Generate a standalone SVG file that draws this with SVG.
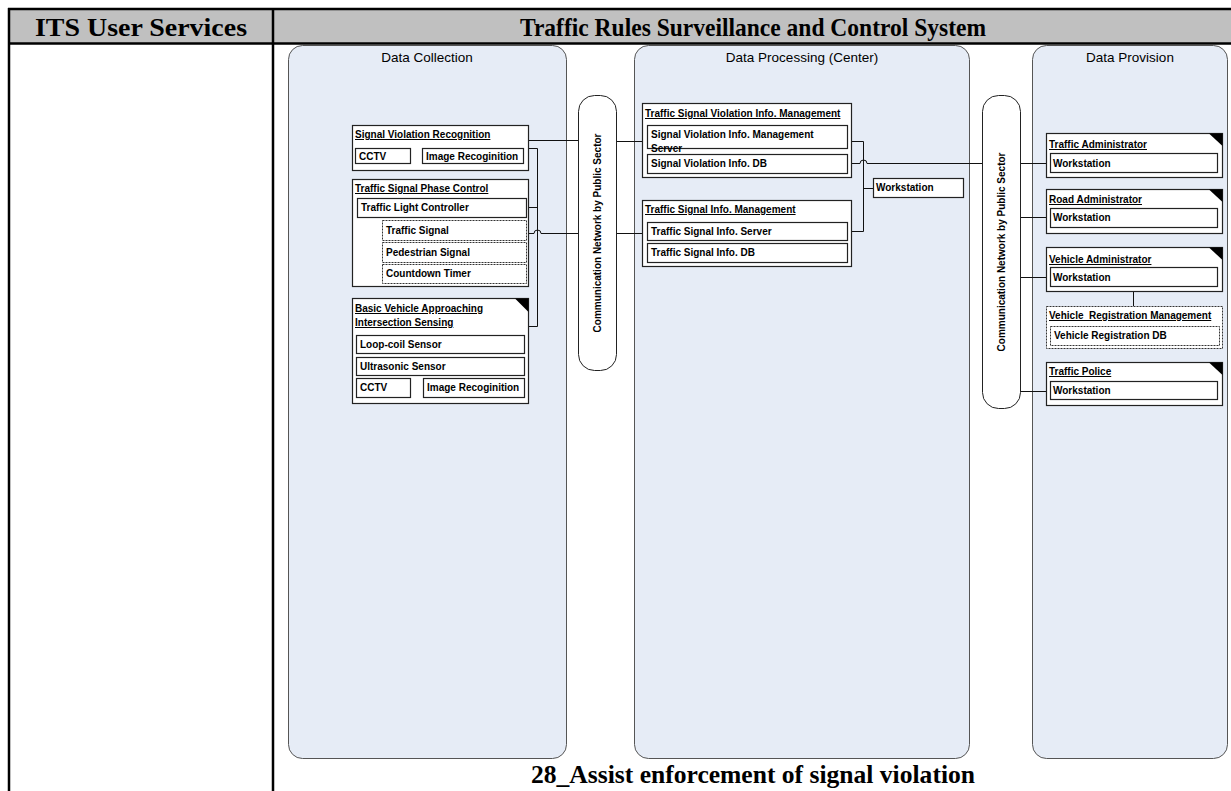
<svg xmlns="http://www.w3.org/2000/svg" width="1231" height="791" viewBox="0 0 1231 791">
  <style>
    .hdr { font-family: "Liberation Serif", "Times New Roman", serif; font-weight: bold; font-size: 26px; fill: #000; }
    .ptitle { font-family: "Liberation Sans", Arial, sans-serif; font-size: 13.5px; fill: #000; }
    .lbl { font-family: "Liberation Sans", Arial, sans-serif; font-weight: bold; font-size: 10px; fill: #000; }
    .ttl { text-decoration: underline; }
    .panel { fill: #e6ecf6; stroke: #555; stroke-width: 1; }
    .pill { fill: #fff; stroke: #222; stroke-width: 1; }
    .box { fill: #fff; stroke: #222; stroke-width: 1.2; }
    .dbox { fill: #fff; stroke: #333; stroke-width: 1; stroke-dasharray: 2 1; }
    .tri { fill: #000; }
    .wire { fill: none; stroke: #111; stroke-width: 1; }
    .rule { stroke: #000; stroke-width: 2.5; }
  </style>

  <!-- page background and table frame -->
  <rect x="0" y="0" width="1231" height="791" fill="#fff"/>
  <rect x="8" y="8" width="1223" height="35" fill="#c0c0c0"/>
  <line class="rule" x1="8" y1="9" x2="1231" y2="9"/>
  <line class="rule" x1="8" y1="43.5" x2="1231" y2="43.5"/>
  <line class="rule" x1="9" y1="8" x2="9" y2="791"/>
  <line class="rule" x1="273" y1="8" x2="273" y2="791"/>
  <text class="hdr" x="141" y="35.5" text-anchor="middle" textLength="212" lengthAdjust="spacingAndGlyphs">ITS User Services</text>
  <text class="hdr" x="753" y="35.5" text-anchor="middle" textLength="466" lengthAdjust="spacingAndGlyphs">Traffic Rules Surveillance and Control System</text>

  <!-- swimlane panels -->
  <g id="panel-collection">
    <rect class="panel" x="288.5" y="45.5" width="278" height="713" rx="14"/>
    <text class="ptitle" x="427" y="62" text-anchor="middle">Data Collection</text>
  </g>
  <g id="panel-processing">
    <rect class="panel" x="634.5" y="45.5" width="335" height="713" rx="14"/>
    <text class="ptitle" x="802" y="62" text-anchor="middle">Data Processing (Center)</text>
  </g>
  <g id="panel-provision">
    <rect class="panel" x="1032.5" y="45.5" width="195" height="713" rx="14"/>
    <text class="ptitle" x="1130" y="62" text-anchor="middle">Data Provision</text>
  </g>

  <!-- connectors -->
  <g id="connectors">
    <!-- data collection to network -->
    <path class="wire" d="M528 140.5 H578"/>
    <path class="wire" d="M523 148.5 H537.5 V326.5 H528"/>
    <path class="wire" d="M526 207.5 H537.5"/>
    <path class="wire" d="M526 233.5 H534 A3.5 3.5 0 0 1 541 233.5 H578"/>
    <path class="wire" d="M365.5 217 V273.5 H382 M365.5 230.5 H382 M365.5 252.5 H382"/>
    <path class="wire" d="M410 155.5 H422"/>
    <path class="wire" d="M410 387.5 H423"/>
    <!-- network to processing -->
    <path class="wire" d="M617 141.5 H642"/>
    <path class="wire" d="M617 233.5 H642"/>
    <path class="wire" d="M847 141.5 H863.5 V231.5 H847"/>
    <path class="wire" d="M863.5 188.5 H873"/>
    <path class="wire" d="M847 163.5 H860 A3.5 3.5 0 0 1 867 163.5 H982"/>
    <!-- network to provision -->
    <path class="wire" d="M1020 163.5 H1050"/>
    <path class="wire" d="M1020 217.5 H1050"/>
    <path class="wire" d="M1020 277.5 H1050"/>
    <path class="wire" d="M1020 391.5 H1050"/>
    <path class="wire" d="M1133.5 291 V306"/>
  </g>

  <!-- communication networks -->
  <g id="network-1">
    <rect class="pill" x="578.5" y="95.5" width="38" height="275" rx="16"/>
    <text class="lbl" transform="translate(601 233) rotate(-90)" text-anchor="middle">Communication Network by Public Sector</text>
  </g>
  <g id="network-2">
    <rect class="pill" x="982.5" y="95.5" width="38" height="313" rx="16"/>
    <text class="lbl" transform="translate(1005 252) rotate(-90)" text-anchor="middle">Communication Network by Public Sector</text>
  </g>

  <!-- data collection nodes -->
  <g id="signal-violation-recognition">
    <rect class="box" x="352.5" y="125.5" width="176" height="45"/>
    <text class="lbl ttl" x="355" y="138">Signal Violation Recognition</text>
    <rect class="box" x="355.5" y="148.5" width="55" height="15"/>
    <text class="lbl" x="359" y="160">CCTV</text>
    <rect class="box" x="422.5" y="148.5" width="101" height="15"/>
    <text class="lbl" x="426" y="160">Image Recoginition</text>
  </g>

  <g id="traffic-signal-phase-control">
    <rect class="box" x="352.5" y="179.5" width="176" height="107"/>
    <text class="lbl ttl" x="355" y="192">Traffic Signal Phase Control</text>
    <rect class="box" x="357.5" y="198.5" width="169" height="19"/>
    <text class="lbl" x="361" y="211">Traffic Light Controller</text>
    <rect class="dbox" x="382.5" y="220.5" width="144" height="20"/>
    <text class="lbl" x="386" y="234">Traffic Signal</text>
    <rect class="dbox" x="382.5" y="242.5" width="144" height="20"/>
    <text class="lbl" x="386" y="256">Pedestrian Signal</text>
    <rect class="dbox" x="382.5" y="264.5" width="144" height="19"/>
    <text class="lbl" x="386" y="277">Countdown Timer</text>
  </g>

  <g id="basic-vehicle-sensing">
    <rect class="box" x="352.5" y="298.5" width="176" height="105"/>
    <polygon class="tri" points="515,298.5 528.5,298.5 528.5,312"/>
    <text class="lbl ttl" x="355" y="312">Basic Vehicle Approaching</text>
    <text class="lbl ttl" x="355" y="326">Intersection Sensing</text>
    <rect class="box" x="356.5" y="335.5" width="168" height="18"/>
    <text class="lbl" x="360" y="348">Loop-coil Sensor</text>
    <rect class="box" x="356.5" y="357.5" width="168" height="18"/>
    <text class="lbl" x="360" y="370">Ultrasonic Sensor</text>
    <rect class="box" x="356.5" y="378.5" width="54" height="19"/>
    <text class="lbl" x="360" y="391">CCTV</text>
    <rect class="box" x="423.5" y="378.5" width="101" height="19"/>
    <text class="lbl" x="427" y="391">Image Recoginition</text>
  </g>

  <!-- data processing nodes -->
  <g id="signal-violation-info-management">
    <rect class="box" x="642.5" y="103.5" width="209" height="74"/>
    <text class="lbl ttl" x="645" y="117">Traffic Signal Violation Info. Management</text>
    <rect class="box" x="647.5" y="125.5" width="200" height="23"/>
    <text class="lbl" x="651" y="138">Signal Violation Info. Management</text>
    <text class="lbl" x="651" y="152">Server</text>
    <rect class="box" x="647.5" y="154.5" width="200" height="19"/>
    <text class="lbl" x="651" y="167">Signal Violation Info. DB</text>
  </g>

  <g id="traffic-signal-info-management">
    <rect class="box" x="642.5" y="200.5" width="209" height="66"/>
    <text class="lbl ttl" x="645" y="213">Traffic Signal Info. Management</text>
    <rect class="box" x="647.5" y="222.5" width="200" height="18"/>
    <text class="lbl" x="651" y="235">Traffic Signal Info. Server</text>
    <rect class="box" x="647.5" y="243.5" width="200" height="19"/>
    <text class="lbl" x="651" y="256">Traffic Signal Info. DB</text>
  </g>

  <g id="center-workstation">
    <rect class="box" x="873.5" y="178.5" width="90" height="19"/>
    <text class="lbl" x="876" y="191">Workstation</text>
  </g>

  <!-- data provision nodes -->
  <g id="traffic-administrator">
    <rect class="box" x="1046.5" y="133.5" width="176" height="44"/>
    <polygon class="tri" points="1209,133.5 1222.5,133.5 1222.5,146"/>
    <text class="lbl ttl" x="1049" y="148">Traffic Administrator</text>
    <rect class="box" x="1050.5" y="153.5" width="167" height="19"/>
    <text class="lbl" x="1053" y="167">Workstation</text>
  </g>

  <g id="road-administrator">
    <rect class="box" x="1046.5" y="189.5" width="176" height="44"/>
    <polygon class="tri" points="1209,189.5 1222.5,189.5 1222.5,202"/>
    <text class="lbl ttl" x="1049" y="203">Road Administrator</text>
    <rect class="box" x="1050.5" y="208.5" width="167" height="19"/>
    <text class="lbl" x="1053" y="221">Workstation</text>
  </g>

  <g id="vehicle-administrator">
    <rect class="box" x="1046.5" y="247.5" width="176" height="44"/>
    <polygon class="tri" points="1209,247.5 1222.5,247.5 1222.5,260"/>
    <text class="lbl ttl" x="1049" y="263">Vehicle Administrator</text>
    <rect class="box" x="1050.5" y="267.5" width="167" height="19"/>
    <text class="lbl" x="1053" y="281">Workstation</text>
  </g>

  <g id="vehicle-registration-management">
    <rect class="dbox" x="1046.5" y="306.5" width="176" height="42"/>
    <text class="lbl ttl" x="1049" y="319" style="white-space:pre">Vehicle  Registration Management</text>
    <rect class="dbox" x="1050.5" y="326.5" width="169" height="19"/>
    <text class="lbl" x="1054" y="339">Vehicle Registration DB</text>
  </g>

  <g id="traffic-police">
    <rect class="box" x="1046.5" y="362.5" width="176" height="43"/>
    <polygon class="tri" points="1209,362.5 1222.5,362.5 1222.5,375"/>
    <text class="lbl ttl" x="1049" y="375">Traffic Police</text>
    <rect class="box" x="1050.5" y="381.5" width="167" height="18"/>
    <text class="lbl" x="1053" y="394">Workstation</text>
  </g>

  <!-- caption -->
  <text class="hdr" x="753" y="783" text-anchor="middle" textLength="444" lengthAdjust="spacingAndGlyphs">28_Assist enforcement of signal violation</text>
</svg>
